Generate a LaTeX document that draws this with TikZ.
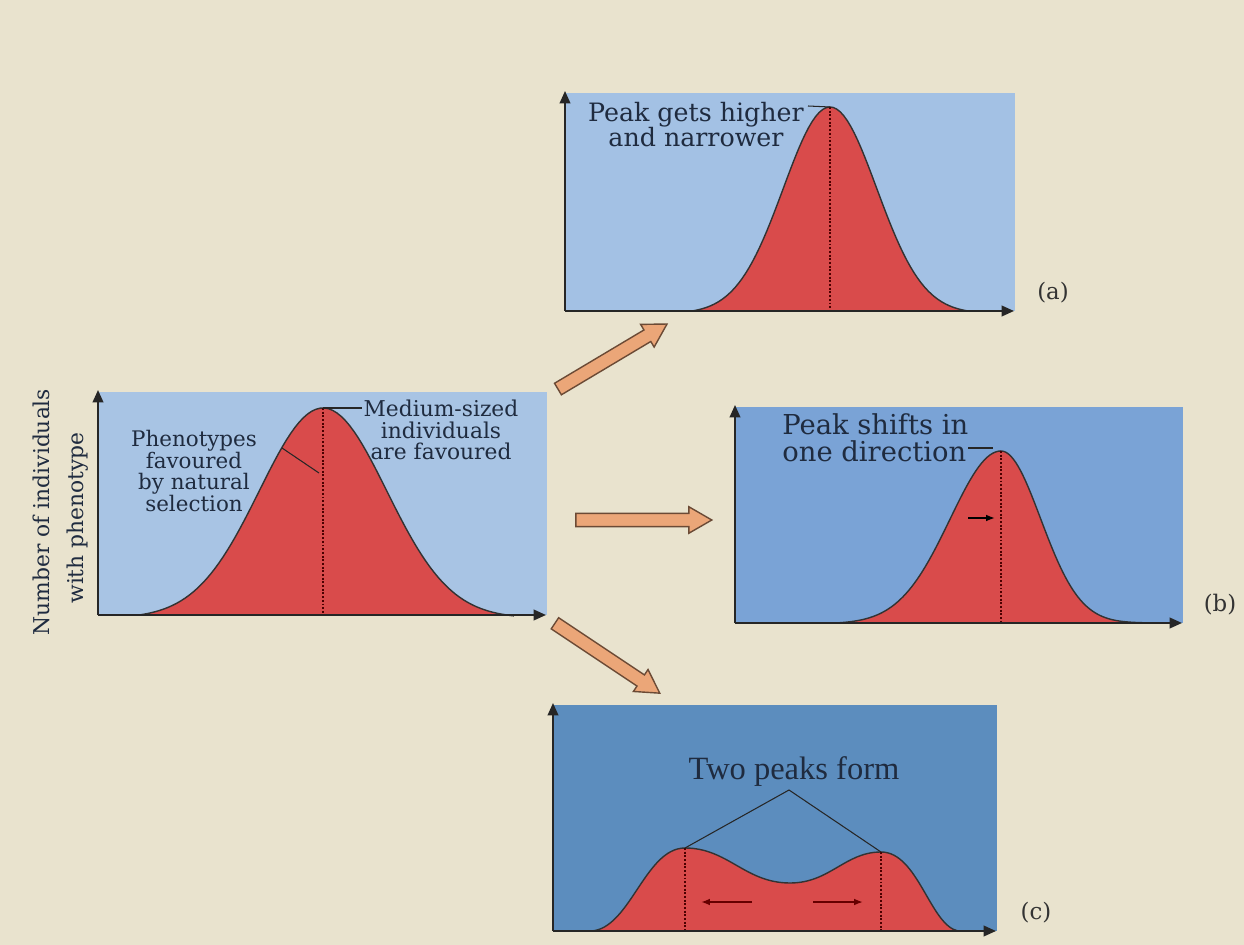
\documentclass[tikz,border=0pt]{standalone}
\usepackage{fontspec}
\setmainfont{DejaVu Serif}
\newfontfamily\timesfont{Liberation Serif}
\usepackage{tikz}
\usetikzlibrary{arrows.meta,shapes.arrows}

\definecolor{paper}{HTML}{E9E3CE}
\definecolor{skymain}{HTML}{A8C4E4}
\definecolor{skya}{HTML}{A3C1E4}
\definecolor{skyb}{HTML}{7AA3D6}
\definecolor{skyc}{HTML}{5C8DBE}
\definecolor{bellred}{HTML}{D94B4B}
\definecolor{inkblue}{HTML}{1F2B3F}
\definecolor{arrowfill}{HTML}{EBA678}
\definecolor{arrowline}{HTML}{6B4A35}

\begin{document}
\begin{tikzpicture}[x=0.02cm, y=-0.02cm,
  axis/.style={line width=1.1pt, draw=black!85, -{Triangle[length=7pt,width=6pt]}},
  bell/.style={draw=black!80, line width=0.8pt},
  peakline/.style={densely dotted, line width=1.1pt, draw=black!70!red},
  leader/.style={draw=black!85, line width=0.6pt},
  lbl/.style={text=inkblue, inner sep=0pt},
  fatarrow/.style={single arrow, draw=arrowline, fill=arrowfill, line width=0.8pt,
    inner sep=0.12cm, single arrow head extend=0.13cm, single arrow tip angle=60}]

  % Page
  \fill[paper] (0,0) rectangle (1244,945);
  \useasboundingbox (0,0) rectangle (1244,945);

  % Starting population
  \fill[skymain] (98,392) rectangle (547,615);
  \fill[bellred] (139,615) -- plot[domain=139:514, samples=90] (\x,{615-207*(exp(-(((\x-323)/90)^2))-0.0153)/0.9847}) -- cycle;
  \draw[bell] plot[domain=139:514, samples=90] (\x,{615-207*(exp(-(((\x-323)/90)^2))-0.0153)/0.9847});
  \coordinate (mpeak) at (323,408);
  \coordinate (mfoot) at (323,615);
  \coordinate (morig) at (98,615);
  \coordinate (mtop) at (98,390);
  \coordinate (mend) at (546,615);
  \draw[peakline] (mpeak) -- (mfoot);
  \draw[axis] (morig) -- (mtop);
  \draw[axis] (morig) -- (mend);
  \node[lbl, align=center, font=\fontsize{12.2}{11.4}\selectfont] (mphen) at (194,471) {Phenotypes\\favoured\\by natural\\selection};
  \node[lbl, align=center, font=\fontsize{12.4}{12.2}\selectfont] (mmed) at (441,430) {Medium-sized\\individuals\\are favoured};
  \coordinate (mphenend) at (282,448);
  \coordinate (mmid) at (319,473);
  \coordinate (mtick) at (362,408);
  \draw[leader] (mphenend) -- (mmid);
  \draw[leader] (mpeak) -- (mtick);
  \node[lbl, rotate=90, font=\fontsize{12.4}{14}\selectfont] (ylab1) at (41,512) {Number of individuals};
  \node[lbl, rotate=90, font=\fontsize{12.4}{14}\selectfont] (ylab2) at (78,518) {with phenotype};

  % (a) higher and narrower
  \fill[skya] (565,93) rectangle (1015,311);
  \fill[bellred] (693,311) -- plot[domain=693:970, samples=80] (\x,{311-204*(exp(-(((\x-830)/66)^2))-0.0126)/0.9874}) -- cycle;
  \draw[bell] plot[domain=693:970, samples=80] (\x,{311-204*(exp(-(((\x-830)/66)^2))-0.0126)/0.9874});
  \coordinate (apeak) at (830,107);
  \coordinate (afoot) at (830,311);
  \coordinate (aorig) at (565,311);
  \coordinate (atop) at (565,91);
  \coordinate (aend) at (1014,311);
  \draw[peakline] (apeak) -- (afoot);
  \draw[axis] (aorig) -- (atop);
  \draw[axis] (aorig) -- (aend);
  \node[lbl, align=center, font=\fontsize{14.4}{14.2}\selectfont] (atext) at (696,125) {Peak gets higher\\and narrower};
  \coordinate (atick) at (808,106);
  \draw[leader] (atick) -- (apeak);
  \node[text=black!80, font=\fontsize{13}{15}\selectfont] (alab) at (1053,293) {(a)};

  % (b) shift to one side
  \fill[skyb] (735,407) rectangle (1183,623);
  \fill[bellred] (836,623) -- plot[domain=836:1001, samples=60] (\x,{623-172*(exp(-(((\x-1001)/72)^2))-0.005)/0.995})
    -- plot[domain=1001:1147, samples=60] (\x,{623-172*exp(-(((\x-1001)/56)^2))}) -- cycle;
  \draw[bell] plot[domain=836:1001, samples=60] (\x,{623-172*(exp(-(((\x-1001)/72)^2))-0.005)/0.995})
    -- plot[domain=1001:1147, samples=60] (\x,{623-172*exp(-(((\x-1001)/56)^2))});
  \coordinate (bpeak) at (1001,451);
  \coordinate (bfoot) at (1001,623);
  \coordinate (borig) at (735,623);
  \coordinate (btop) at (735,405);
  \coordinate (bend) at (1182,623);
  \draw[peakline] (bpeak) -- (bfoot);
  \draw[axis] (borig) -- (btop);
  \draw[axis] (borig) -- (bend);
  \node[lbl, align=left, anchor=west, font=\fontsize{15.6}{15.3}\selectfont] (btext) at (782,438) {Peak shifts in\\one direction};
  \coordinate (btick) at (968,448);
  \coordinate (bpeaktop) at (993,448);
  \draw[leader] (btick) -- (bpeaktop);
  \coordinate (bshift0) at (968,518);
  \coordinate (bshift1) at (995,518);
  \draw[line width=0.9pt, -{Latex[length=5pt]}] (bshift0) -- (bshift1);
  \node[text=black!80, font=\fontsize{13}{15}\selectfont] (blab) at (1220,605) {(b)};

  % (c) two peaks
  \fill[skyc] (553,705) rectangle (997,931);
  \fill[bellred] (591,931) .. controls (630,929) and (645,848) .. (685,848)
    .. controls (728,848) and (745,883) .. (790,883)
    .. controls (830,883) and (845,852) .. (881,852)
    .. controls (918,852) and (930,925) .. (958,931) -- cycle;
  \draw[bell] (591,931) .. controls (630,929) and (645,848) .. (685,848)
    .. controls (728,848) and (745,883) .. (790,883)
    .. controls (830,883) and (845,852) .. (881,852)
    .. controls (918,852) and (930,925) .. (958,931);
  \coordinate (cpeak1) at (685,848);
  \coordinate (cpeak2) at (881,852);
  \coordinate (cfoot1) at (685,931);
  \coordinate (cfoot2) at (881,931);
  \coordinate (corig) at (553,931);
  \coordinate (ctop) at (553,703);
  \coordinate (cend) at (996,931);
  \draw[peakline] (cpeak1) -- (cfoot1);
  \draw[peakline] (cpeak2) -- (cfoot2);
  \draw[axis] (corig) -- (ctop);
  \draw[axis] (corig) -- (cend);
  \node[lbl, font=\timesfont\fontsize{18.5}{20}\selectfont] (ctext) at (794,772) {Two peaks form};
  \coordinate (capex) at (789,790);
  \draw[leader] (cpeak1) -- (capex) -- (cpeak2);
  \coordinate (cleft0) at (752,902);
  \coordinate (cleft1) at (701,902);
  \coordinate (cright0) at (813,902);
  \coordinate (cright1) at (863,902);
  \draw[line width=0.9pt, draw=black!60!red, -{Latex[length=5pt]}] (cleft0) -- (cleft1);
  \draw[line width=0.9pt, draw=black!60!red, -{Latex[length=5pt]}] (cright0) -- (cright1);
  \node[text=black!80, font=\fontsize{13}{15}\selectfont] (clab) at (1036,913) {(c)};

  % Selection arrows
  \node[fatarrow, minimum height=2.54cm, minimum width=0.5cm, rotate=30.8] (toa) at (607.5,359.5) {};
  \node[fatarrow, minimum height=2.72cm, minimum width=0.5cm] (tob) at (638,520) {};
  \node[fatarrow, minimum height=2.52cm, minimum width=0.5cm, rotate=-33.7] (toc) at (602.5,655) {};
\end{tikzpicture}
\end{document}
